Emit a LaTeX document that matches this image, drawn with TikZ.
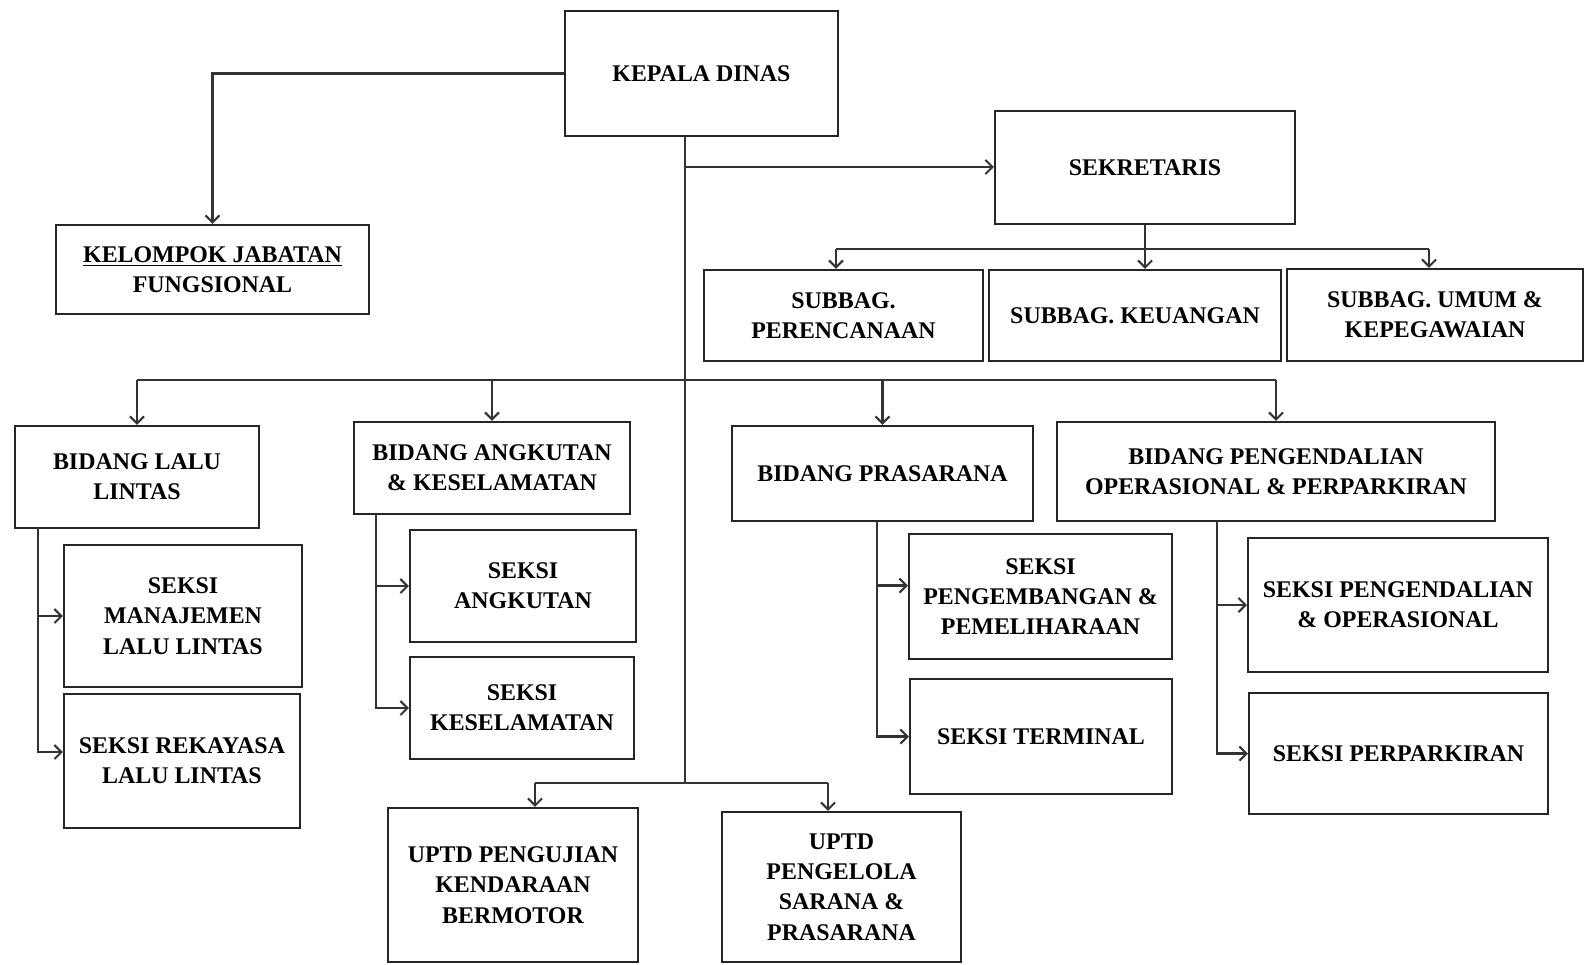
\documentclass[tikz,border=0pt]{standalone}
\usepackage{fontspec}
\setmainfont{Liberation Serif}
\usetikzlibrary{arrows.meta}

\begin{document}
\begin{tikzpicture}[x=0.02cm,y=-0.02cm]
    \tikzstyle{unit}=[draw=black!85, line width=1.2pt, rectangle, align=center, inner sep=0pt,
        font={\fontsize{13.6}{17.2}\selectfont\bfseries}]
    \tikzstyle{bar}=[draw=black!80, line width=1.2pt]
    \tikzstyle{link}=[bar, -{Straight Barb[length=4pt,width=8pt]}]
    \useasboundingbox (0,0) rectangle (1584,964);
    \foreach \n/\x/\y/\w/\h/\t in {
        kadis/701.5/73.5/5.46/2.5/{KEPALA DINAS},
        sekr/1145/167.5/6.0/2.26/{SEKRETARIS},
        jabfung/212.5/269.5/6.26/1.78/{\underline{KELOMPOK JABATAN}\\FUNGSIONAL},
        perenc/843.5/315.5/5.58/1.82/{SUBBAG.\\PERENCANAAN},
        keu/1135/315.5/5.84/1.82/{SUBBAG. KEUANGAN},
        umum/1435/315/5.92/1.84/{SUBBAG. UMUM \&\\KEPEGAWAIAN},
        bll/137/477/4.88/2.04/{BIDANG LALU\\LINTAS},
        bak/492/468/5.52/1.84/{BIDANG ANGKUTAN\\\& KESELAMATAN},
        bpr/882.5/473.5/6.02/1.9/{BIDANG PRASARANA},
        bpo/1276/471.5/8.76/1.98/{BIDANG PENGENDALIAN\\OPERASIONAL \& PERPARKIRAN},
        smll/183/616/4.76/2.84/{SEKSI\\MANAJEMEN\\LALU LINTAS},
        srll/182/761/4.72/2.68/{SEKSI REKAYASA\\LALU LINTAS},
        sang/523/586/4.52/2.24/{SEKSI\\ANGKUTAN},
        skes/522/708/4.48/2.04/{SEKSI\\KESELAMATAN},
        speng/1040.5/596.5/5.26/2.5/{SEKSI\\PENGEMBANGAN \&\\PEMELIHARAAN},
        ster/1041/736.5/5.24/2.3/{SEKSI TERMINAL},
        spo/1398/605/6.0/2.68/{SEKSI PENGENDALIAN\\\& OPERASIONAL},
        spk/1398.5/753.5/5.98/2.42/{SEKSI PERPARKIRAN},
        uptda/513/885/5.0/3.08/{UPTD PENGUJIAN\\KENDARAAN\\BERMOTOR},
        uptdb/841.5/887/4.78/3.0/{UPTD\\PENGELOLA\\SARANA \&\\PRASARANA}}
        \node[unit, minimum width=\w cm, minimum height=\h cm] (\n) at (\x,\y) {\t};

    % junction points
    \coordinate (top) at (685,136);
    \coordinate (jsek) at (685,167);
    \coordinate (bbar) at (685,380);
    \coordinate (sbar) at (1146,249);
    \coordinate (sa) at (836,249);
    \coordinate (sc) at (1429,249);
    \coordinate (ua) at (535,783);
    \coordinate (ub) at (828,783);
    \coordinate (lb) at (38,528);
    \coordinate (ab) at (376,514);
    \coordinate (pb) at (877,521);
    \coordinate (ob) at (1217,521);

    \draw[link] (kadis.west) -| (jabfung.north);
    \draw[bar] (top) -- (top |- ua);
    \draw[link] (jsek) -- (jsek -| sekr.west);

    \draw[link] (sekr.south) -- (sekr.south |- keu.north);
    \draw[bar] (sa) -- (sc);
    \draw[link] (sa) -- (sa |- perenc.north);
    \draw[link] (sc) -- (sc |- umum.north);

    \draw[bar] (bll |- bbar) -- (bpo |- bbar);
    \foreach \b in {bll,bak,bpr,bpo}
        \draw[link] (\b |- bbar) -- (\b.north);

    \draw[bar] (ua) -- (ub);
    \draw[link] (ua) -- (ua |- uptda.north);
    \draw[link] (ub) -- (ub |- uptdb.north);

    \draw[link] (lb) |- (smll.west);
    \draw[link] (lb) |- ([yshift=0.18cm]srll.west);
    \draw[link] (ab) |- (sang.west);
    \draw[link] (ab) |- (skes.west);
    \draw[link] (pb) |- ([yshift=0.22cm]speng.west);
    \draw[link] (pb) |- (ster.west);
    \draw[link] (ob) |- (spo.west);
    \draw[link] (ob) |- (spk.west);
\end{tikzpicture}
\end{document}
